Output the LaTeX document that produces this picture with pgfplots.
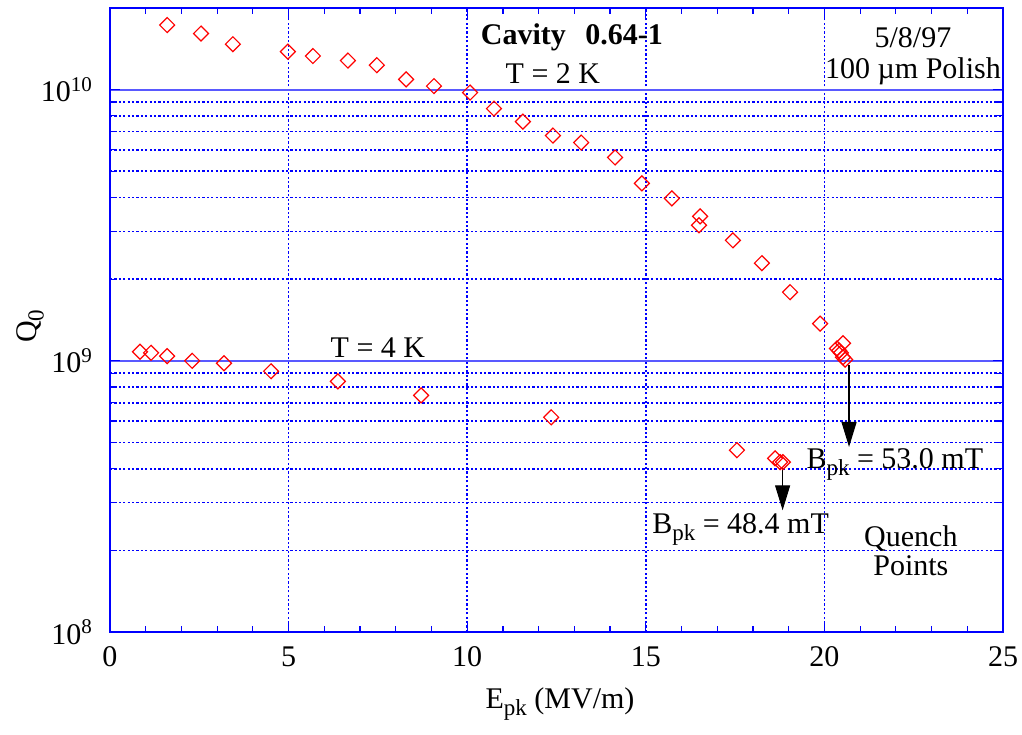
\documentclass[border=0pt]{standalone}
\usepackage{fontspec}
\setmainfont{Liberation Serif}
\usepackage{pgfplots}
\pgfplotsset{compat=1.18}
\usetikzlibrary{arrows.meta}
\newcommand\sub[1]{\raisebox{-0.55ex}{\fontsize{11.5}{12}\selectfont #1}}

\begin{document}
\begin{tikzpicture}
\begin{axis}[
    scale only axis,
    width=446.5pt,
    height=312pt,
    xmin=0, xmax=25,
    ymode=log, ymin=1e8, ymax=2e10,
    xtick={0,5,...,25},
    minor x tick num=4,
    ytick={1e8,1e9,1e10},
    yticklabels={10\textsuperscript{8},10\textsuperscript{9},10\textsuperscript{10}},
    minor ytick={2e8,3e8,4e8,5e8,6e8,7e8,8e8,9e8,2e9,3e9,4e9,5e9,6e9,7e9,8e9,9e9},
    /pgf/number format/assume math mode=true,
    axis line style={blue, line width=0.8pt},
    every tick/.style={blue, line width=0.6pt},
    major tick length=5pt,
    minor tick length=3pt,
    tick align=inside,
    xmajorgrids, ymajorgrids, yminorgrids,
    every major x grid/.style={blue, line width=0.8pt, dash pattern=on 1.1pt off 1.1pt},
    every minor y grid/.style={blue, line width=0.8pt, dash pattern=on 1.1pt off 1.1pt},
    every major y grid/.style={blue!65, line width=1pt},
    tick label style={font=\fontsize{15}{18}\selectfont},
    xticklabel style={yshift=-4pt},
    yticklabel style={xshift=-5pt},
    label style={font=\fontsize{15}{18}\selectfont},
    xlabel={E\sub{pk} (MV/m)},
    ylabel={Q\sub{0}},
    xlabel style={at={(axis description cs:0.504,-0.122)}, anchor=base},
    ylabel style={at={(axis description cs:-0.0896,0.49)}, anchor=center},
]
% T = 2 K
\addplot[only marks, mark=square, mark size=2.65pt,
    mark options={rotate=45, red, line width=0.6pt}] coordinates {
    (1.60,1.73e10) (2.55,1.61e10) (3.44,1.47e10) (4.98,1.38e10) (5.68,1.33e10)
    (6.66,1.28e10) (7.47,1.23e10) (8.29,1.09e10) (9.07,1.03e10) (10.08,9.75e9)
    (10.75,8.51e9) (11.56,7.62e9) (12.40,6.77e9) (13.19,6.38e9) (14.14,5.62e9)
    (14.89,4.51e9) (15.73,3.97e9) (16.52,3.41e9) (16.49,3.16e9) (17.44,2.78e9)
    (18.25,2.29e9) (19.04,1.79e9) (19.88,1.37e9) (20.52,1.16e9) (20.35,1.11e9)
    (20.41,1.09e9) (20.46,1.07e9) (20.52,1.03e9) (20.58,1.01e9)
};
% T = 4 K
\addplot[only marks, mark=square, mark size=2.65pt,
    mark options={rotate=45, red, line width=0.6pt}] coordinates {
    (0.84,1.08e9) (1.15,1.07e9) (1.60,1.04e9) (2.30,1.00e9) (3.19,9.79e8)
    (4.51,9.15e8) (6.38,8.40e8) (8.71,7.46e8) (12.35,6.19e8) (17.55,4.68e8)
    (18.62,4.37e8) (18.76,4.23e8) (18.84,4.23e8)
};
\draw[-{Triangle[length=12.5pt,width=7.5pt]}, line width=0.6pt]
    (axis cs:20.69,9.63e8) -- (axis cs:20.69,4.81e8);
\draw[-{Triangle[length=12.5pt,width=7.5pt]}, line width=0.6pt]
    (axis cs:18.83,4.01e8) -- (axis cs:18.83,2.81e8);
\node[font=\fontsize{15}{18}\selectfont\bfseries] at (axis cs:12.93,1.56e10) {Cavity\hspace{0.65em}0.64-1};
\node[font=\fontsize{15}{18}\selectfont] at (axis cs:12.40,1.15e10) {T = 2 K};
\node[font=\fontsize{15}{18}\selectfont] at (axis cs:22.48,1.56e10) {5/8/97};
\node[font=\fontsize{15}{18}\selectfont] at (axis cs:22.48,1.17e10) {100 µm Polish};
\node[font=\fontsize{15}{18}\selectfont] at (axis cs:7.50,1.12e9) {T = 4 K};
\node[font=\fontsize{15}{18}\selectfont, anchor=base west, inner sep=0pt] at (axis cs:19.49,4.02e8) {B\sub{pk} = 53.0 mT};
\node[font=\fontsize{15}{18}\selectfont, anchor=base west, inner sep=0pt] at (axis cs:15.17,2.316e8) {B\sub{pk} = 48.4 mT};
\node[font=\fontsize{15}{14.5}\selectfont, align=center] at (axis cs:22.42,1.99e8) {Quench\\Points};
\end{axis}
\pgfresetboundingbox
\path ([shift={(-55pt,-51pt)}]current axis.south west) rectangle ([shift={(9.5pt,4pt)}]current axis.north east);
\end{tikzpicture}
\end{document}
